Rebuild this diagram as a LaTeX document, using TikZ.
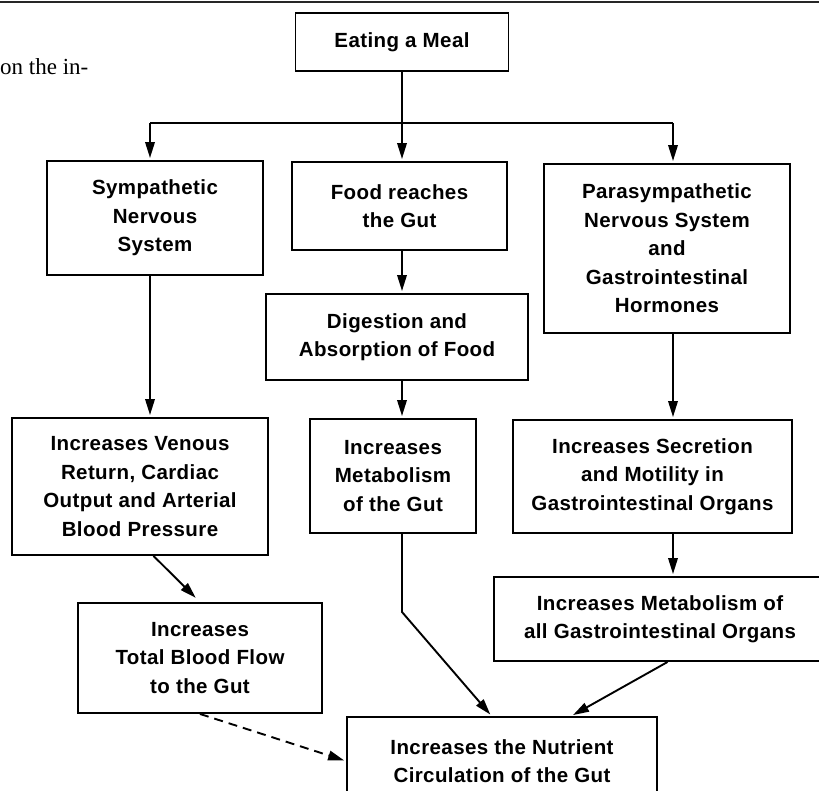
\documentclass[tikz,border=0pt]{standalone}
\usepackage{fontspec}
\setmainfont{Liberation Sans}
\newfontfamily\boxfont[LetterSpace=2]{Liberation Sans}
\newfontfamily\pagefont{Liberation Serif}
\usetikzlibrary{arrows.meta}

\tikzset{
  box/.style={rectangle, draw, line width=1.9pt, inner sep=0pt, align=center,
    font=\boxfont\fontsize{20.5}{28.5}\selectfont\bfseries},
  arr/.style={-{Triangle[length=16pt,width=9.5pt]}, line width=1.9pt, shorten >=2pt}
}

\begin{document}
\begin{tikzpicture}[x=1pt,y=-1pt]
\useasboundingbox (0,0) rectangle (819,790);

\draw[line width=2.2pt, black!85] (0,2) -- (819,2);
\node[anchor=base west, inner sep=0pt, font=\pagefont\fontsize{23}{27}\selectfont] (pagetext) at (0,74) {on the in-};

\node[box, minimum width=213pt, minimum height=58pt] (meal) at (402,42) {Eating a Meal};
\node[box, minimum width=216pt, minimum height=114pt] (symp) at (155,218) {Sympathetic\\Nervous\\System};
\node[box, minimum width=215pt, minimum height=88pt] (food) at (399.5,206) {Food reaches\\the Gut};
\node[box, minimum width=246pt, minimum height=169pt] (para) at (667,248.5) {Parasympathetic\\Nervous System\\and\\Gastrointestinal\\Hormones};
\node[box, minimum width=262pt, minimum height=86pt] (digest) at (397,337) {Digestion and\\Absorption of Food};
\node[box, minimum width=256pt, minimum height=137pt] (venous) at (140,486.5) {Increases Venous\\Return, Cardiac\\Output and Arterial\\Blood Pressure};
\node[box, minimum width=166pt, minimum height=114pt] (metab) at (393,476) {Increases\\Metabolism\\of the Gut};
\node[box, minimum width=279pt, minimum height=113pt] (secret) at (652.5,476.5) {Increases Secretion\\and Motility in\\Gastrointestinal Organs};
\node[box, minimum width=332pt, minimum height=84pt] (metaball) at (660,619) {Increases Metabolism of\\all Gastrointestinal Organs};
\node[box, minimum width=244pt, minimum height=110pt] (total) at (200,658) {Increases\\Total Blood Flow\\to the Gut};
\node[box, minimum width=310pt, minimum height=88pt] (nutrient) at (502,761) {Increases the Nutrient\\Circulation of the Gut};

\coordinate (jl) at (150,123);
\coordinate (jm) at (402,123);
\coordinate (jr) at (673,123);
\coordinate (bend) at (402,612);

\draw[line width=1.9pt] (meal) -- (jm);
\draw[line width=1.9pt] (jl) -- (jr);
\path[arr] (jl) edge (jl |- symp.north);
\path[arr] (jm) edge (jm |- food.north);
\path[arr] (jr) edge (jr |- para.north);
\path[arr] (jl |- symp.south) edge (jl |- venous.north);
\path[arr] (jm |- food.south) edge (jm |- digest.north);
\path[arr] (jm |- digest.south) edge (jm |- metab.north);
\path[arr] (jr |- para.south) edge (jr |- secret.north);
\path[arr] (jr |- secret.south) edge (jr |- metaball.north);
\path[arr, shorten >=6pt] (venous.-79) edge (total.north);
\path[arr] (metaball.-80) edge (nutrient.33);
\draw[arr] (jm |- metab.south) -- (bend) -- (nutrient.103);
\draw[arr, dash pattern=on 9pt off 6pt] (total.south) -- (nutrient.west);

\end{tikzpicture}
\end{document}
